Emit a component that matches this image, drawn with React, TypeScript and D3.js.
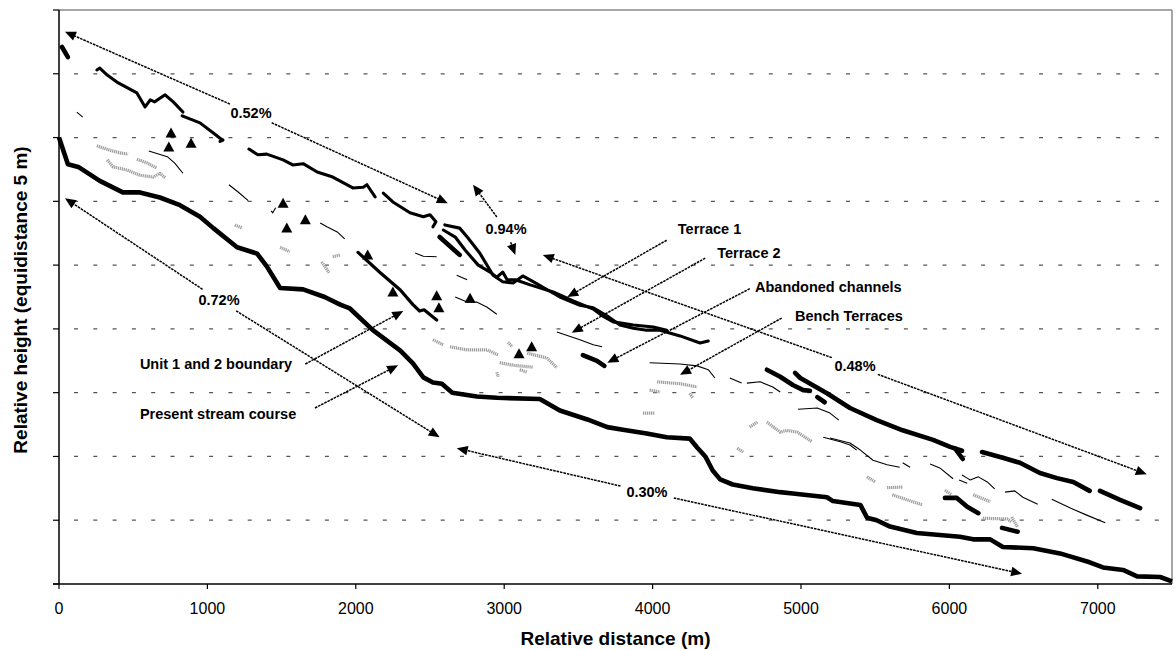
import React from 'react';
import * as d3 from 'd3';

type Pt = [number, number];

// ---------- axes ----------
const xTicks = [0, 1000, 2000, 3000, 4000, 5000, 6000, 7000];
const yGrid = [0, 5, 10, 15, 20, 25, 30, 35, 40, 45];
const xTitle = 'Relative distance (m)';
const yTitle = 'Relative height (equidistance 5 m)';

// ---------- present stream course ----------
const streamCourse: Pt[] = [
  [0, 35.0], [60, 32.9], [130, 32.7], [275, 31.6], [430, 30.7], [545, 30.7], [680, 30.3], [815, 29.7],
  [950, 28.8], [1040, 27.9], [1200, 26.4], [1335, 25.9], [1400, 24.9], [1490, 23.2], [1645, 23.1],
  [1790, 22.5], [1895, 21.9], [1960, 21.6], [2115, 19.9], [2300, 18.3], [2385, 17.3], [2455, 16.2],
  [2520, 15.8], [2580, 15.7], [2650, 15.0], [2815, 14.7], [2950, 14.6], [3240, 14.5], [3375, 13.6],
  [3560, 12.9], [3695, 12.3], [3800, 12.1], [3960, 11.8], [4095, 11.5], [4250, 11.4], [4300, 10.7],
  [4355, 10.0], [4405, 8.9], [4455, 8.2], [4540, 7.8], [4675, 7.5], [4860, 7.2], [4945, 7.1],
  [5175, 6.8], [5215, 6.5], [5400, 6.2], [5445, 5.2], [5510, 5.0], [5600, 4.5], [5780, 4.0],
  [6070, 3.7], [6160, 3.5], [6275, 3.5], [6360, 2.9], [6565, 2.8], [6745, 2.4], [6945, 1.7],
  [7035, 1.3], [7170, 1.1], [7265, 0.6], [7420, 0.55], [7500, 0.2],
];

// ---------- unit 1 / 2 boundary ----------
const unitBoundary: Pt[] = [
  [2015, 26.0], [2165, 24.4], [2300, 23.05], [2385, 21.9], [2430, 21.4], [2460, 21.5], [2545, 20.7],
];

// ---------- terrace lines (medium) ----------
const terraceLines: Pt[][] = [
  [[255, 40.3], [275, 40.45], [325, 39.9], [390, 39.35], [525, 38.5], [580, 37.4], [615, 37.95],
   [645, 37.8], [715, 38.35], [770, 37.8], [835, 37.0]],
  [[830, 36.7], [950, 36.15], [1040, 35.35], [1085, 34.95], [1105, 34.8], [1085, 34.7]],
  [[1280, 34.1], [1340, 33.65], [1400, 33.7], [1510, 33.25], [1575, 32.85], [1645, 32.95],
   [1740, 32.3], [1845, 31.9], [1980, 31.05], [2050, 31.1], [2075, 31.3], [2130, 30.35]],
  [[2185, 30.65], [2250, 29.95], [2365, 29.1], [2455, 28.8], [2500, 28.95], [2540, 28.4], [2520, 28.0]],
  [[2600, 28.15], [2700, 27.9], [2755, 27.15], [2835, 25.95], [2925, 24.2], [2990, 23.7], [3060, 23.6],
   [3125, 24.15], [3195, 23.7], [3375, 22.5], [3510, 21.85], [3600, 21.65], [3695, 21.0], [3780, 20.3],
   [3870, 20.05], [3960, 19.9], [4050, 19.9], [4185, 19.45], [4320, 18.9], [4375, 19.05]],
  [[2590, 27.75], [2670, 27.2], [2735, 26.2], [2825, 25.0], [2905, 24.45], [2950, 24.05], [2990, 24.45],
   [3020, 23.85], [3075, 23.85], [3175, 23.45], [3330, 22.9], [3465, 22.2], [3600, 21.55], [3665, 21.0],
   [3735, 20.55], [3870, 20.3], [4005, 20.15], [4095, 19.9]],
];

// ---------- thick terrace remnants ----------
const thickLines: Pt[][] = [
  [[20, 42.1], [60, 41.3]],
  [[2565, 27.2], [2700, 25.8]],
  [[3530, 17.95], [3625, 17.5], [3675, 17.1]],
  [[4770, 16.8], [4860, 16.25], [4945, 15.6], [5015, 15.2], [5060, 15.15]],
  [[4960, 16.55], [4995, 16.15], [5175, 14.95], [5330, 13.8], [5510, 12.85], [5685, 12.05],
   [5890, 11.3], [6005, 10.75], [6085, 10.45]],
  [[6040, 10.6], [6090, 9.8]],
  [[5110, 14.65], [5160, 14.25]],
  [[6220, 10.35], [6360, 9.9], [6475, 9.5], [6610, 8.7], [6725, 8.3], [6835, 8.0], [6945, 7.3]],
  [[7015, 7.3], [7150, 6.6], [7285, 5.95]],
  [[5970, 6.75], [6050, 6.75], [6120, 6.05], [6195, 5.55]],
  [[6355, 4.4], [6460, 4.1]],
];

// ---------- abandoned channels (thin) ----------
const channels: Pt[][] = [
  [[120, 37.0], [160, 36.6]],
  [[605, 33.95], [730, 33.5], [780, 33.0], [835, 32.2]],
  [[1145, 31.3], [1205, 30.75], [1275, 30.05]],
  [[1760, 28.3], [1805, 28.0], [1875, 27.6], [1925, 27.05]],
  [[1430, 29.25], [1440, 29.1], [1460, 29.5]],
  [[2400, 25.95], [2455, 25.7], [2545, 25.65]],
  [[2680, 24.2], [2750, 23.85]],
  [[2670, 22.5], [2750, 22.1], [2815, 22.1], [2885, 21.7], [2950, 21.15]],
  [[3355, 19.75], [3510, 19.15], [3600, 18.75], [3660, 18.6]],
  [[3980, 17.35], [4185, 17.25], [4300, 17.1], [4375, 16.8], [4420, 16.15]],
  [[4520, 16.15], [4600, 15.75]],
  [[4635, 15.75], [4725, 15.85], [4810, 15.45], [4860, 15.05]],
  [[4980, 13.7], [5110, 13.8], [5195, 13.4], [5255, 12.85]],
  [[5150, 11.5], [5265, 11.15], [5330, 10.9], [5375, 10.5]],
  [[5195, 11.45], [5330, 11.05], [5400, 10.5], [5485, 9.7], [5580, 9.35], [5665, 9.15]],
  [[5685, 9.5], [5735, 9.15]],
  [[5870, 9.4], [5935, 9.1], [6025, 8.25]],
  [[6065, 8.15], [6120, 7.9]],
  [[6085, 8.55], [6120, 8.3], [6140, 8.15], [6195, 8.4], [6255, 8.0], [6305, 7.45]],
  [[6375, 7.2], [6440, 7.3], [6495, 6.8], [6595, 6.25]],
  [[6690, 6.65], [6815, 5.95], [6925, 5.4], [7050, 4.8]],
];

// ---------- bench terraces (grey hatched) ----------
const benchTerraces: Pt[][] = [
  [[255, 34.35], [345, 34.0], [410, 33.8], [465, 33.7]],
  [[325, 33.25], [365, 32.7], [460, 32.45], [545, 32.05], [635, 31.9], [680, 32.2], [715, 31.85]],
  [[525, 33.3], [595, 33.0], [660, 32.6]],
  [[1185, 28.15], [1235, 27.9]],
  [[1490, 26.4], [1555, 26.05]],
  [[1845, 25.65], [1895, 25.8]],
  [[1770, 25.25], [1820, 24.4]],
  [[2520, 19.15], [2590, 18.75]],
  [[2635, 18.6], [2750, 18.35], [2885, 18.35], [2960, 17.95]],
  [[3025, 18.95], [3055, 18.6]],
  [[2950, 16.6], [2960, 16.25]],
  [[2970, 17.35], [3060, 17.15], [3195, 17.0]],
  [[3105, 16.8], [3155, 16.6]],
  [[3155, 18.1], [3290, 17.7], [3355, 16.95]],
  [[4030, 15.85], [4185, 15.7], [4300, 15.45]],
  [[3980, 15.2], [4050, 15.05]],
  [[4250, 14.95], [4270, 14.6]],
  [[3935, 13.4], [4015, 13.4]],
  [[4655, 12.3], [4705, 12.7]],
  [[4770, 12.7], [4860, 11.9], [4905, 12.05], [4975, 11.9], [5075, 11.15]],
  [[4570, 10.65], [4610, 10.35]],
  [[5445, 8.4], [5500, 8.0]],
  [[5580, 7.55], [5685, 7.6]],
  [[5615, 7.0], [5715, 6.6], [5820, 6.2]],
  [[5970, 7.35], [6015, 7.0]],
  [[6160, 7.0], [6275, 6.45]],
  [[6225, 5.15], [6390, 5.1], [6420, 4.85]],
  [[6420, 5.25], [6460, 4.45]],
];

// ---------- triangles ----------
const triangles: Pt[] = [
  [755, 35.35], [740, 34.25], [890, 34.55], [1510, 29.85], [1535, 27.9], [1660, 28.55],
  [2080, 25.8], [2250, 22.9], [2545, 22.6], [2560, 21.65], [2770, 22.4], [3100, 18.05], [3185, 18.6],
];

// ---------- slope annotations ----------
const slopeLabels = ['0.52%', '0.94%', '0.48%', '0.72%', '0.30%'];
const slopeCenters: Pt[] = [[1294, 36.9], [3012, 27.8], [5364, 17.1], [1078, 22.25], [3962, 7.2]];
const slopeEnds: Pt[][] = [
  [[40, 43.3], [2620, 29.85]],
  [[2790, 31.3], [3075, 25.8]],
  [[3260, 25.8], [7330, 8.6]],
  [[40, 30.25], [2565, 11.5]],
  [[2680, 10.65], [6490, 0.8]],
];

// ---------- pointer labels ----------
const pointerLabels = ['Terrace 1', 'Terrace 2', 'Abandoned channels', 'Bench Terraces',
  'Unit 1 and 2 boundary', 'Present stream course'];
const pointerText: Pt[] = [[4170, 27.85], [4435, 25.95], [4690, 23.3], [4960, 21.0], [545, 17.25], [545, 13.35]];
const pointerFrom: Pt[] = [[4095, 26.95], [4355, 25.55], [4655, 23.15], [4870, 20.85], [1660, 17.25], [1725, 13.8]];
const pointerTo: Pt[] = [[3425, 22.5], [3455, 19.7], [3695, 17.35], [4185, 16.4], [2320, 21.4], [2285, 17.15]];

const FONT = '"Liberation Sans", Arial, Helvetica, sans-serif';

function arrowHead(tip: [number, number], from: [number, number], len = 11, half = 4.8) {
  const dx = tip[0] - from[0];
  const dy = tip[1] - from[1];
  const d = Math.hypot(dx, dy) || 1;
  const ux = dx / d, uy = dy / d;
  const bx = tip[0] - ux * len, by = tip[1] - uy * len;
  const nx = -uy, ny = ux;
  return `M${tip[0]},${tip[1]}L${bx + nx * half},${by + ny * half}L${bx - nx * half},${by - ny * half}Z`;
}

export default function App() {
  const width = 1176, height = 650;
  const left = 59, right = 1172, top = 10, bottom = 584;
  const x = d3.scaleLinear().domain([0, 7500]).range([left, right]);
  const y = d3.scaleLinear().domain([0, 45]).range([bottom, top]);
  const line = d3.line<Pt>().x(d => x(d[0])).y(d => y(d[1]));

  const dotted = { stroke: '#000', strokeWidth: 1.5, strokeDasharray: '2.6,0.9', fill: 'none' } as const;

  const slopeEls: React.ReactNode[] = [];
  slopeLabels.forEach((lab, i) => {
    const c: [number, number] = [x(slopeCenters[i][0]), y(slopeCenters[i][1])];
    slopeEnds[i].forEach((e, j) => {
      const ep: [number, number] = [x(e[0]), y(e[1])];
      const dx = ep[0] - c[0], dy = ep[1] - c[1];
      const d = Math.hypot(dx, dy);
      const ux = dx / d, uy = dy / d;
      const rx = 30, ry = 13;
      const t = 1 / Math.sqrt((ux / rx) ** 2 + (uy / ry) ** 2);
      const sx = c[0] + ux * t, sy = c[1] + uy * t;
      const lx = ep[0] - ux * 9, ly = ep[1] - uy * 9;
      slopeEls.push(
        <g key={`s${i}-${j}`}>
          <line x1={sx} y1={sy} x2={lx} y2={ly} {...dotted} />
          <path d={arrowHead(ep, [sx, sy])} fill="#000" />
        </g>
      );
    });
    slopeEls.push(
      <text key={`st${i}`} x={c[0]} y={c[1]} textAnchor="middle" dominantBaseline="central"
        fontFamily={FONT} fontWeight="bold" fontSize={14.5} fill="#000">{lab}</text>
    );
  });

  const pointerEls = pointerLabels.map((lab, i) => {
    const f: [number, number] = [x(pointerFrom[i][0]), y(pointerFrom[i][1])];
    const tp: [number, number] = [x(pointerTo[i][0]), y(pointerTo[i][1])];
    const dx = tp[0] - f[0], dy = tp[1] - f[1];
    const d = Math.hypot(dx, dy);
    const lx = tp[0] - (dx / d) * 9, ly = tp[1] - (dy / d) * 9;
    return (
      <g key={`p${i}`}>
        <line x1={f[0]} y1={f[1]} x2={lx} y2={ly} {...dotted} />
        <path d={arrowHead(tp, f)} fill="#000" />
        <text x={x(pointerText[i][0])} y={y(pointerText[i][1])} dominantBaseline="central"
          fontFamily={FONT} fontWeight="bold" fontSize={14.5} fill="#000">{lab}</text>
      </g>
    );
  });

  return (
    <svg width={width} height={height} style={{ position: 'absolute', left: 0, top: 0, background: '#fff' }}
      xmlns="http://www.w3.org/2000/svg">
      <rect x={0} y={0} width={width} height={height} fill="#fff" />
      {/* gridlines */}
      {yGrid.filter(v => v > 0 && v < 45).map(v => (
        <line key={`g${v}`} x1={left} x2={right} y1={y(v)} y2={y(v)} stroke="#555" strokeWidth={1.2}
          strokeDasharray="4,15.3" strokeDashoffset={0.3 - 19.3 + 4} />
      ))}
      {/* plot border (top/right) */}
      <line x1={left} x2={right} y1={top} y2={top} stroke="#8a8a8a" strokeWidth={1.5} />
      <line x1={right} x2={right} y1={top} y2={bottom} stroke="#8a8a8a" strokeWidth={1.5} />

      {/* bench terraces */}
      {benchTerraces.map((s, i) => (
        <path key={`b${i}`} d={line(s) || ''} fill="none" stroke="#a0a0a0" strokeWidth={3.2}
          strokeDasharray="1.3,0.7" strokeLinecap="butt" strokeLinejoin="round" />
      ))}
      {/* abandoned channels */}
      {channels.map((s, i) => (
        <path key={`c${i}`} d={line(s) || ''} fill="none" stroke="#000" strokeWidth={1.1}
          strokeLinejoin="round" />
      ))}
      {/* terraces */}
      {terraceLines.map((s, i) => (
        <path key={`t${i}`} d={line(s) || ''} fill="none" stroke="#000" strokeWidth={3.1}
          strokeLinejoin="round" strokeLinecap="round" />
      ))}
      {thickLines.map((s, i) => (
        <path key={`k${i}`} d={line(s) || ''} fill="none" stroke="#000" strokeWidth={4.6}
          strokeLinejoin="round" strokeLinecap="round" />
      ))}
      <path d={line(unitBoundary) || ''} fill="none" stroke="#000" strokeWidth={3.2}
        strokeLinejoin="round" strokeLinecap="round" />
      <path d={line(streamCourse) || ''} fill="none" stroke="#000" strokeWidth={4.6}
        strokeLinejoin="round" />

      {/* triangles */}
      {triangles.map((p, i) => {
        const cx = x(p[0]), cy = y(p[1]);
        return <path key={`tr${i}`} d={`M${cx},${cy - 5.5}L${cx + 5.5},${cy + 4.5}L${cx - 5.5},${cy + 4.5}Z`} fill="#000" />;
      })}

      {slopeEls}
      {pointerEls}

      {/* axes */}
      <line x1={left} x2={left} y1={top} y2={bottom} stroke="#000" strokeWidth={1.5} />
      <line x1={left - 6} x2={right} y1={bottom} y2={bottom} stroke="#000" strokeWidth={1.5} />
      {yGrid.map(v => (
        <line key={`yt${v}`} x1={left - 6} x2={left} y1={y(v)} y2={y(v)} stroke="#000" strokeWidth={1.2} />
      ))}
      {xTicks.map(v => (
        <g key={`xt${v}`}>
          <line x1={x(v)} x2={x(v)} y1={bottom} y2={bottom + 5} stroke="#000" strokeWidth={1.2} />
          <text x={x(v)} y={608} textAnchor="middle" dominantBaseline="central" fontFamily={FONT}
            fontSize={16} fill="#000">{v}</text>
        </g>
      ))}
      <text x={(left + right) / 2} y={638} textAnchor="middle" dominantBaseline="central" fontFamily={FONT}
        fontWeight="bold" fontSize={19} fill="#000">{xTitle}</text>
      <text transform={`translate(20,${(top + bottom) / 2 + 3}) rotate(-90)`} textAnchor="middle"
        dominantBaseline="central" fontFamily={FONT} fontWeight="bold" fontSize={19} fill="#000">{yTitle}</text>
    </svg>
  );
}
